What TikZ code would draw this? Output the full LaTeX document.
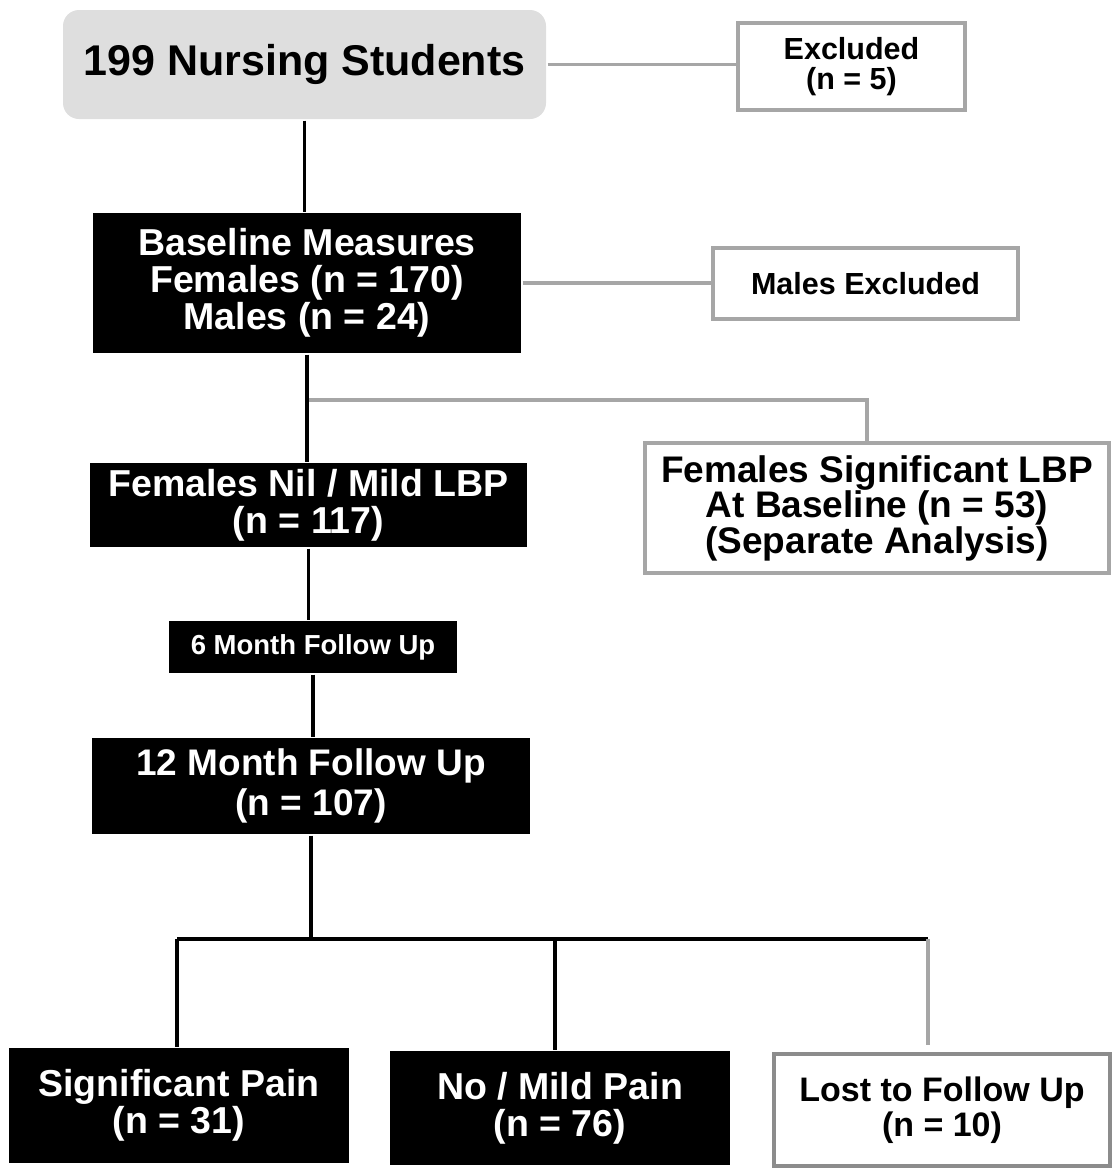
\documentclass[tikz,border=0pt]{standalone}
\usepackage{fontspec}
\setmainfont{Liberation Sans}
\usepackage{tikz}
\usetikzlibrary{positioning,calc}
\definecolor{flow@grey}{RGB}{166,166,166}
\definecolor{flow@dark}{RGB}{140,140,140}
\definecolor{flow@pale}{RGB}{222,222,222}
\tikzset{
  flow/.style={
    x=1pt, y=-1pt,
    line width=3pt
  },
  startbox/.style={                % top population box
    fill=flow@pale, rounded corners=16pt,
    inner sep=0pt, align=center,
    font=\bfseries\fontsize{43}{44}\selectfont
  },
  darkbox/.style={                 % included groups
    fill=black, text=white,
    inner sep=0pt, align=center,
    font=\bfseries\fontsize{37.5}{37}\selectfont
  },
  lightbox/.style={                % excluded / side groups
    draw=flow@grey, line width=3.5pt,
    fill=white, inner sep=0pt, align=center,
    font=\bfseries\fontsize{30.5}{30}\selectfont
  },
  mainline/.style={draw=black, line width=3.2pt},
  sideline/.style={draw=flow@grey, line width=3.5pt}
}

\begin{document}
\begin{tikzpicture}[flow]
\useasboundingbox (0,0) rectangle (1112,1170);

% Population at top
\node[startbox, minimum width=483, minimum height=109] (pop) at (304.5,64.5)
  {199 Nursing Students};
\node[lightbox, minimum width=227, minimum height=87] (excl) at (851.5,66.5)
  {Excluded\\(n = 5)};

% Baseline measures
\node[darkbox, minimum width=428, minimum height=140] (base) at (307,283)
  {Baseline Measures\\Females (n = 170)\\Males (n = 24)};
\node[lightbox, minimum width=305, minimum height=71] (males) at (865.5,283.5)
  {Males Excluded};

% Split by LBP at baseline
\node[darkbox, minimum width=437, minimum height=84] (nil) at (308.5,505)
  {Females Nil / Mild LBP\\(n = 117)};
\node[lightbox, minimum width=464, minimum height=130,
  font=\bfseries\fontsize{37}{33}\selectfont] (siglbp) at (877,508)
  {Females Significant LBP\\At Baseline (n = 53)\\(Separate Analysis)};

% Follow ups
\node[darkbox, minimum width=288, minimum height=52,
  font=\bfseries\fontsize{27.5}{28}\selectfont] (six) at (313,647)
  {6 Month Follow Up};
\node[darkbox, minimum width=438, minimum height=96,
  font=\bfseries\fontsize{37}{40}\selectfont] (twelve) at (311,786)
  {12 Month Follow Up\\(n = 107)};

% Outcomes
\node[darkbox, minimum width=340, minimum height=115] (pain) at (179,1105.5)
  {Significant Pain\\(n = 31)};
\node[darkbox, minimum width=340, minimum height=114] (nopain) at (560,1108)
  {No / Mild Pain\\(n = 76)};
\node[lightbox, minimum width=336, minimum height=112, draw=flow@dark, line width=4pt,
  font=\bfseries\fontsize{34}{35}\selectfont] (lost) at (942,1110)
  {Lost to Follow Up\\(n = 10)};

% Exclusion links
\draw[sideline] (pop.east) -- (pop.east -| excl.west);
\draw[sideline] (base.east) -- (base.east -| males.west);

% Main stem
\draw[mainline] (pop.south) -- (pop.south |- base.north);
\draw[mainline] (base.south) -- (base.south |- nil.north);
\draw[mainline] (nil.south) -- (nil.south |- six.north);
\draw[mainline] (six.south) -- (six.south |- twelve.north);

% Branch to significant LBP
\coordinate (fork) at (309,400);
\draw[sideline] (fork) -| ([xshift=-10]siglbp.north);

% Outcome bar
\coordinate (bar) at (309,939);
\coordinate (barL) at (177,939);
\coordinate (barR) at (928,939);
\draw[mainline] (twelve.south) -- (twelve.south |- bar);
\draw[mainline, line width=3.8pt] (barL) -- (barR);
\draw[mainline] (barL) -- (barL |- pain.north);
\draw[mainline] (nopain.north -| 555,0) -- (555,939);
\draw[sideline, shorten >=7pt] (barR) -- (barR |- lost.north);

\end{tikzpicture}
\end{document}
